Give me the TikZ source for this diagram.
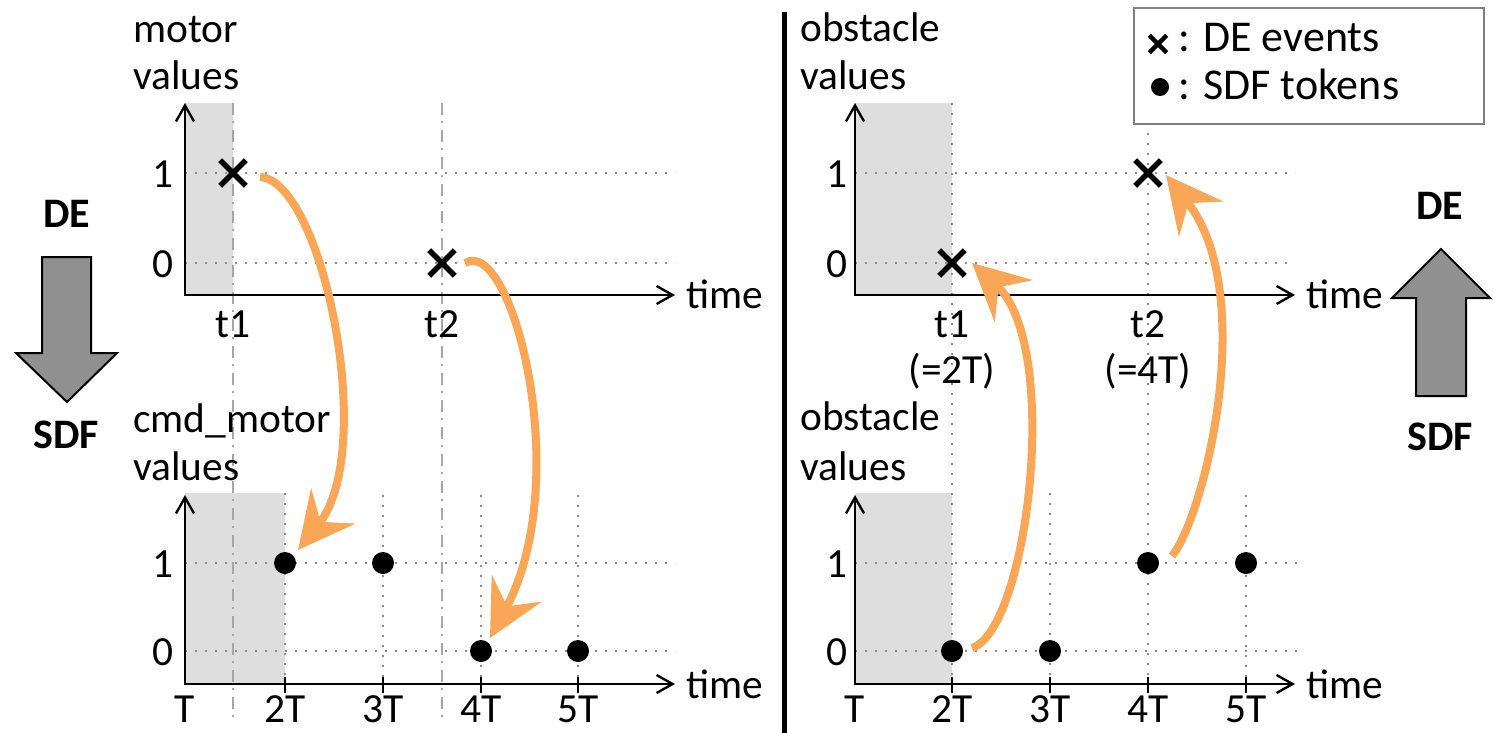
\documentclass[tikz,border=0pt]{standalone}
\usepackage{fontspec}
\setmainfont{Carlito}
\usetikzlibrary{arrows.meta,shapes.misc}
\definecolor{orangeC}{RGB}{249,166,86}
\definecolor{shadeC}{RGB}{222,222,222}
\definecolor{gridC}{RGB}{140,140,140}
\definecolor{tlineC}{RGB}{166,166,166}
\definecolor{bigarrowC}{RGB}{144,144,144}
\definecolor{legendC}{RGB}{128,128,128}
\begin{document}
\begin{tikzpicture}[x=0.5pt,y=-0.5pt,
  txt/.style={font=\fontsize{20.7}{24}\selectfont, inner sep=0pt},
  legtxt/.style={font=\fontsize{22}{26}\selectfont, inner sep=0pt},
  boldtxt/.style={font=\fontsize{21}{25}\selectfont\bfseries, inner sep=0pt},
  axis/.style={line width=1.2pt, {Straight Barb[length=8pt,width=9pt]}-{Straight Barb[length=8pt,width=9pt]}},
  shadebox/.style={fill=shadeC},
  gridl/.style={draw=gridC, line width=1.1pt, dash pattern=on 1.1pt off 3.9pt},
  tline/.style={draw=tlineC, line width=1.2pt, dash pattern=on 6pt off 3pt on 1pt off 3.5pt},
  tickl/.style={line width=1.2pt},
  xmark/.style={cross out, draw=black, line width=2.8pt, minimum size=10pt, inner sep=0pt},
  tok/.style={circle, fill=black, minimum size=11pt, inner sep=0pt},
  orarrow/.style={draw=orangeC, line width=4pt, -{Stealth[length=28pt,width=28pt,inset=10pt]}},
  bigarrow/.style={fill=bigarrowC, draw=black, line width=1pt, line join=miter},
  divider/.style={line width=2.5pt},
  legendbox/.style={draw=legendC, fill=white, line width=1pt, inner sep=0pt}
]
\useasboundingbox (0,0) rectangle (1493,733);

% shaded regions
\fill[shadebox] (185,103) rectangle (233,295);
\fill[shadebox] (185,493) rectangle (285,684);
\fill[shadebox] (855,103) rectangle (952,295);
\fill[shadebox] (855,493) rectangle (952,684);

% left panel time lines
\draw[tline] (233,103) -- (233,718);
\draw[tline] (442,103) -- (442,718);

% left grid
\draw[gridl] (185,173) -- (675,173);
\draw[gridl] (185,263) -- (675,263);
\draw[gridl] (185,563) -- (675,563);
\draw[gridl] (185,651) -- (675,651);
\draw[gridl] (285,493) -- (285,684);
\draw[gridl] (383,495) -- (383,684);
\draw[gridl] (481,495) -- (481,684);
\draw[gridl] (578,495) -- (578,684);

% right grid
\draw[gridl] (855,173) -- (1295,173);
\draw[gridl] (855,263) -- (1290,263);
\draw[gridl] (855,563) -- (1297,563);
\draw[gridl] (855,651) -- (1297,651);
\draw[gridl] (952,103) -- (952,684);
\draw[gridl] (1148,103) -- (1148,684);
\draw[gridl] (1050,493) -- (1050,684);
\draw[gridl] (1246,495) -- (1246,684);

% axes
\draw[axis] (185,103) -- (185,295) -- (675,295);
\draw[axis] (185,495) -- (185,684) -- (675,684);
\draw[axis] (855,103) -- (855,295) -- (1295,295);
\draw[axis] (855,495) -- (855,684) -- (1295,684);

% ticks
\foreach \x in {285,383,481,578,952,1050,1148,1246}
  \draw[tickl] (\x,677) -- (\x,693);

% divider
\draw[divider] (784,12) -- (784,733);

% markers left
\node[xmark] (mx1) at (233,173) {};
\node[xmark] (mx2) at (442,263) {};
\node[tok] (c2) at (285,563) {};
\node[tok] (c3) at (383,563) {};
\node[tok] (c4) at (481,651) {};
\node[tok] (c5) at (578,651) {};
% markers right
\node[xmark] (ox1) at (952,263) {};
\node[xmark] (ox2) at (1148,173) {};
\node[tok] (o2) at (952,651) {};
\node[tok] (o3) at (1050,651) {};
\node[tok] (o4) at (1148,563) {};
\node[tok] (o5) at (1246,563) {};

% axis titles
\node[txt, anchor=base west] (lt1) at (133,43) {motor};
\node[txt, anchor=base west] (lt2) at (133,90) {values};
\node[txt, anchor=base west] (lb1) at (133,432) {cmd\_motor};
\node[txt, anchor=base west] (lb2) at (133,480) {values};
\node[txt, anchor=base west] (rt1) at (800,42) {obstacle};
\node[txt, anchor=base west] (rt2) at (800,90) {values};
\node[txt, anchor=base west] (rb1) at (800,430) {obstacle};
\node[txt, anchor=base west] (rb2) at (800,480) {values};

% y labels
\node[txt, anchor=base] (ly1) at (163,187) {1};
\node[txt, anchor=base] (ly0) at (163,277) {0};
\node[txt, anchor=base] (ly1b) at (163,577) {1};
\node[txt, anchor=base] (ly0b) at (163,665) {0};
\node[txt, anchor=base] (ry1) at (837,187) {1};
\node[txt, anchor=base] (ry0) at (837,277) {0};
\node[txt, anchor=base] (ry1b) at (837,577) {1};
\node[txt, anchor=base] (ry0b) at (837,665) {0};

% time labels
\node[txt, anchor=base west] (ltm1) at (686,308) {time};
\node[txt, anchor=base west] (ltm2) at (686,698) {time};
\node[txt, anchor=base west] (rtm1) at (1306,308) {time};
\node[txt, anchor=base west] (rtm2) at (1306,698) {time};

% x labels top
\node[txt, anchor=base] (lxt1) at (233,337) {t1};
\node[txt, anchor=base] (lxt2) at (442,337) {t2};
\node[txt, anchor=base] (rxt1) at (952,337) {t1};
\node[txt, anchor=base] (rxt1b) at (952,383) {(=2T)};
\node[txt, anchor=base] (rxt2) at (1148,337) {t2};
\node[txt, anchor=base] (rxt2b) at (1148,383) {(=4T)};

% x labels bottom
\node[txt, anchor=base] (lT1) at (185,722) {T};
\node[txt, anchor=base] (lT2) at (285,722) {2T};
\node[txt, anchor=base] (lT3) at (383,722) {3T};
\node[txt, anchor=base] (lT4) at (481,722) {4T};
\node[txt, anchor=base] (lT5) at (578,722) {5T};
\node[txt, anchor=base] (rT1) at (855,722) {T};
\node[txt, anchor=base] (rT2) at (952,722) {2T};
\node[txt, anchor=base] (rT3) at (1050,722) {3T};
\node[txt, anchor=base] (rT4) at (1148,722) {4T};
\node[txt, anchor=base] (rT5) at (1246,722) {5T};

% orange arrows
\coordinate (a1s) at (260,177);
\coordinate (a1e) at (298,550);
\coordinate (a2s) at (465,263);
\coordinate (a2e) at (490,638);
\coordinate (a3s) at (972,648);
\coordinate (a3e) at (972,263);
\coordinate (a4s) at (1172,556);
\coordinate (a4e) at (1166,175);
\draw[orarrow] (a1s) .. controls (322,180) and (378,450) .. (a1e);
\draw[orarrow] (a2s) .. controls (512,235) and (575,480) .. (a2e);
\draw[orarrow] (a3s) .. controls (1028,630) and (1062,345) .. (a3e);
\draw[orarrow] (a4s) .. controls (1205,515) and (1259,292) .. (a4e);

% legend
\node[legendbox, minimum width=175pt, minimum height=58pt, anchor=north west] (legend) at (1133,7) {};
\node[xmark, line width=2.2pt, minimum size=6.5pt] (lgx) at (1158,44) {};
\node[tok, minimum size=9pt] (lgd) at (1160,87) {};
\node[legtxt, anchor=base west] (lgt1) at (1178,52) {: DE events};
\node[legtxt, anchor=base west] (lgt2) at (1178,100) {: SDF tokens};

% big arrows
\draw[bigarrow] (42,257) -- (91,257) -- (91,353) -- (117,353) -- (67,402) -- (16,353) -- (42,353) -- cycle;
\draw[bigarrow] (1416,396) -- (1466,396) -- (1466,298) -- (1490,298) -- (1441,249) -- (1392,298) -- (1416,298) -- cycle;
\node[boldtxt, anchor=base] (lde) at (67,227) {DE};
\node[boldtxt, anchor=base] (lsdf) at (66,448) {SDF};
\node[boldtxt, anchor=base] (rde) at (1440,219) {DE};
\node[boldtxt, anchor=base] (rsdf) at (1440,450) {SDF};
\end{tikzpicture}
\end{document}
